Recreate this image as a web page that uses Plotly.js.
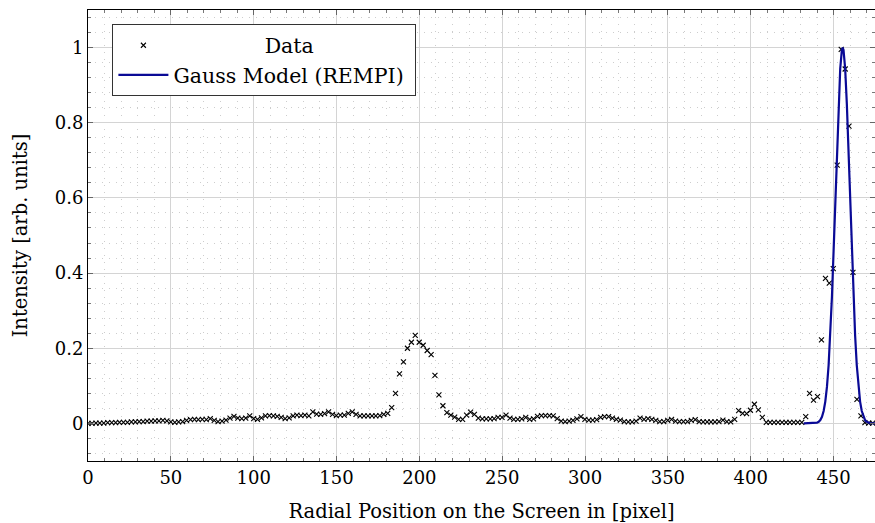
<!DOCTYPE html>
<html>
<head>
<meta charset="utf-8">
<script src="https://cdn.plot.ly/plotly-3.0.1.min.js"></script>
<style>
html,body{margin:0;padding:0;background:#fff;}
#chart{width:875px;height:523px;}
</style>
</head>
<body>
<div id="chart"></div>
<script>
// Measured data: radial position (pixel) and normalised intensity
const dataX = [
0,2.4,4.8,7.1,9.5,11.9,14.3,16.7,19.0,21.4,
23.8,26.2,28.6,30.9,33.3,35.7,38.1,40.5,42.8,45.2,
47.6,50.0,52.4,54.7,57.1,59.5,61.9,64.3,66.6,69.0,
71.4,73.8,76.2,78.5,80.9,83.3,85.7,88.1,90.4,92.8,
95.2,97.6,100.0,102.3,104.7,107.1,109.5,111.9,114.2,116.6,
119.0,121.4,123.8,126.1,128.5,130.9,133.3,135.7,138.0,140.4,
142.8,145.2,147.6,149.9,152.3,154.7,157.1,159.5,161.8,164.2,
166.6,169.0,171.4,173.7,176.1,178.5,180.9,183.3,185.6,188.0,
190.4,192.8,195.2,197.5,199.9,202.3,204.7,207.1,209.4,211.8,
214.2,216.6,219.0,221.3,223.7,226.1,228.5,230.9,233.2,235.6,
238.0,240.4,242.8,245.1,247.5,249.9,252.3,254.7,257.0,259.4,
261.8,264.2,266.6,268.9,271.3,273.7,276.1,278.5,280.8,283.2,
285.6,288.0,290.4,292.7,295.1,297.5,299.9,302.3,304.6,307.0,
309.4,311.8,314.2,316.5,318.9,321.3,323.7,326.1,328.4,330.8,
333.2,335.6,338.0,340.3,342.7,345.1,347.5,349.9,352.2,354.6,
357.0,359.4,361.8,364.1,366.5,368.9,371.3,373.7,376.0,378.4,
380.8,383.2,385.6,387.9,390.3,392.7,395.1,397.5,399.8,402.2,
404.6,407.0,409.4,411.7,414.1,416.5,418.9,421.3,423.6,426.0,
428.4,430.8,433.2,435.5,437.9,440.3,442.7,445.1,447.4,449.8,
452.2,454.6,457.0,459.3,461.7,464.1,466.5,468.9,471.2,473.6
];
const dataY = [
0.000,0.000,0.001,0.001,0.001,0.002,0.002,0.002,0.003,0.003,
0.003,0.004,0.004,0.005,0.005,0.006,0.006,0.007,0.007,0.008,
0.007,0.004,0.003,0.004,0.005,0.008,0.010,0.011,0.010,0.011,
0.010,0.013,0.008,0.005,0.006,0.009,0.014,0.019,0.014,0.013,
0.014,0.020,0.013,0.011,0.015,0.020,0.021,0.020,0.019,0.016,
0.013,0.015,0.020,0.022,0.021,0.022,0.020,0.031,0.025,0.024,
0.026,0.031,0.024,0.021,0.022,0.022,0.027,0.031,0.024,0.020,
0.020,0.020,0.020,0.020,0.021,0.024,0.027,0.042,0.080,0.132,
0.164,0.200,0.216,0.234,0.216,0.208,0.194,0.183,0.128,0.076,
0.047,0.029,0.022,0.017,0.011,0.011,0.022,0.030,0.024,0.014,
0.012,0.012,0.012,0.013,0.016,0.016,0.022,0.014,0.011,0.011,
0.012,0.016,0.011,0.012,0.019,0.021,0.021,0.021,0.020,0.013,
0.006,0.005,0.006,0.008,0.012,0.018,0.011,0.009,0.009,0.010,
0.016,0.018,0.018,0.014,0.011,0.009,0.005,0.004,0.004,0.006,
0.014,0.011,0.013,0.011,0.008,0.005,0.005,0.008,0.011,0.006,
0.005,0.005,0.005,0.008,0.010,0.005,0.004,0.004,0.004,0.004,
0.005,0.009,0.005,0.004,0.011,0.034,0.027,0.026,0.035,0.051,
0.036,0.016,0.003,0.003,0.003,0.003,0.003,0.003,0.003,0.003,
0.003,0.003,0.018,0.080,0.062,0.071,0.222,0.386,0.373,0.412,
0.687,0.995,0.943,0.791,0.402,0.064,0.020,0.002,0.001,0.001
];
// Gauss model curve
const modelX = [432,433,434,435,436,437,438,439,440,441,442,443,444,445,446,447,448,449,450,451,452,453,454,455,455.5,456,457,458,459,460,461,462,463,464,465,466,467,468,469,470,471,472,473,474,475];
const modelY = [0,0,0,0,0.0001,0.0002,0.0004,0.0009,0.002,0.0044,0.009,0.0177,0.0329,0.058,0.0972,0.1547,0.2339,0.3358,0.4578,0.5927,0.7288,0.851,0.9436,0.9936,1.0,0.9936,0.9436,0.851,0.7288,0.5927,0.4578,0.3358,0.2339,0.1547,0.0972,0.058,0.0329,0.0177,0.009,0.0044,0.002,0.0009,0.0004,0.0002,0.0001];
const xTicks = [0,50,100,150,200,250,300,350,400,450];
const yTicks = [0,0.2,0.4,0.6,0.8,1];
const yTickText = ['0','0.2','0.4','0.6','0.8','1'];

const FONT = 'DejaVu Serif';
const NB = '\u00a0';
const traces = [
  {x: dataX, y: dataY, type: 'scatter', mode: 'markers', name: NB.repeat(14) + 'Data',
   legendgroup: 'a',
   marker: {symbol: 'x-thin', size: 5, color: '#000', line: {color: '#000', width: 1.1}}},
  {x: modelX, y: modelY, type: 'scatter', mode: 'lines', name: 'Gauss Model (REMPI)' + NB,
   legendgroup: 'b',
   line: {color: '#0a0a96', width: 2.2}}
];
const axisCommon = {
  showline: true, linecolor: '#000', linewidth: 1, mirror: 'allticks',
  ticks: 'inside', ticklen: 5, tickcolor: '#666', tickwidth: 1,
  showgrid: true, gridcolor: '#d4d4d4', gridwidth: 1,
  zeroline: false,
  tickfont: {family: FONT, size: 18, color: '#000'},
  minor: {ticks: 'inside', ticklen: 3, tickcolor: '#777', showgrid: true, gridcolor: '#cdcdcd', griddash: '1px,6px', gridwidth: 1}
};
const layout = {
  width: 875, height: 523,
  margin: {l: 88, r: 0, t: 10, b: 62},
  paper_bgcolor: '#fff', plot_bgcolor: '#fff',
  font: {family: FONT, size: 18, color: '#000'},
  showlegend: true,
  legend: {x: 0.031, y: 0.968, xanchor: 'left', yanchor: 'top', bgcolor: '#fff',
           bordercolor: '#333', borderwidth: 1, font: {family: FONT, size: 20.5, color: '#000'},
           tracegroupgap: 0, itemwidth: 50},
  xaxis: Object.assign({}, axisCommon, {
    range: [0, 475], tickmode: 'array', tickvals: xTicks,
    minor: Object.assign({}, axisCommon.minor, {dtick: 10, tick0: 0}),
    title: {text: 'Radial Position on the Screen in [pixel]', font: {family: FONT, size: 19.5}, standoff: 17}
  }),
  yaxis: Object.assign({}, axisCommon, {
    range: [-0.1, 1.1], tickmode: 'array', tickvals: yTicks, ticktext: yTickText,
    minor: Object.assign({}, axisCommon.minor, {dtick: 0.04, tick0: 0}),
    title: {text: 'Intensity [arb. units]', font: {family: FONT, size: 19.5}, standoff: 21}
  })
};
Plotly.newPlot('chart', traces, layout, {displayModeBar: false, staticPlot: true});
</script>
</body>
</html>
